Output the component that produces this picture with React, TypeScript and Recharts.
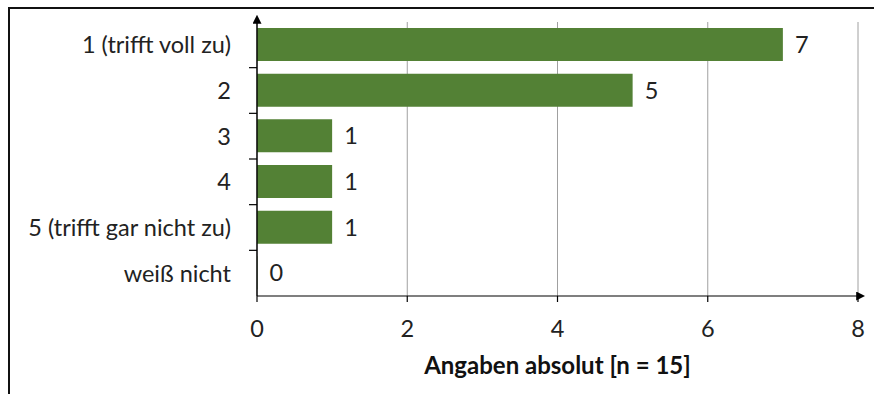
import React from 'react';
import { BarChart, Bar, XAxis, YAxis, CartesianGrid, LabelList } from 'recharts';

const categories = ['1 (trifft voll zu)', '2', '3', '4', '5 (trifft gar nicht zu)', 'weiß nicht'];
const counts = [7, 5, 1, 1, 1, 0];
const xTicks = [0, 2, 4, 6, 8];

const data = categories.map((name, i) => ({ name, value: counts[i] }));

const FONT = 'Lato, "Open Sans", sans-serif';
const FS = 23.5;
const CHART_W = 864;
const CHART_H = 385;
const MARGIN = { top: 13, right: 16, bottom: 0, left: 0 };
const X_AXIS_H = 98;
const BAND = (CHART_H - MARGIN.top - MARGIN.bottom - X_AXIS_H) / categories.length;

// category label plus a small tick at the lower boundary of each band
const CategoryTick = (props: any) => {
  const { x, y, payload, index } = props;
  const last = index === categories.length - 1;
  return (
    <g>
      <text x={x} y={y} dy="0.36em" textAnchor="end" fontSize={FS} fontFamily={FONT} fill="#222">
        {payload.value}
      </text>
      {!last && <line x1={x + 18} x2={x + 26} y1={y + BAND / 2} y2={y + BAND / 2} stroke="#000" strokeWidth={1.2} />}
    </g>
  );
};

const App: React.FC = () => {
  return (
    <div
      style={{
        position: 'fixed',
        top: 7,
        left: 8,
        width: 880,
        height: 400,
        borderTop: '2px solid #111',
        borderLeft: '2px solid #111',
        background: '#fff',
      }}
    >
      <svg width={0} height={0} style={{ position: 'absolute' }}>
        <defs>
          <marker id="axisArrow" viewBox="0 0 10 10" refX="2" refY="5" markerWidth="9" markerHeight="9" markerUnits="userSpaceOnUse" orient="auto-start-reverse">
            <path d="M0,0 L10,5 L0,10 z" fill="#000" />
          </marker>
        </defs>
      </svg>
      <BarChart width={CHART_W} height={CHART_H} data={data} layout="vertical" margin={MARGIN}>
        <CartesianGrid horizontal={false} stroke="#a0a0a0" strokeWidth={1} />
        <Bar dataKey="value" fill="#538135" barSize={33} minPointSize={0.4} isAnimationActive={false}>
          <LabelList dataKey="value" position="right" offset={12} style={{ fontSize: FS, fontFamily: FONT, fill: '#222' }} />
        </Bar>
        <XAxis
          type="number"
          domain={[0, 8]}
          ticks={xTicks}
          height={X_AXIS_H}
          tickSize={6}
          tickMargin={18}
          axisLine={{ stroke: '#000', strokeWidth: 1.2, markerEnd: 'url(#axisArrow)' }}
          tickLine={{ stroke: '#000', strokeWidth: 1.2 }}
          tick={{ fontSize: FS, fontFamily: FONT, fill: '#222' }}
          label={{
            value: 'Angaben absolut [n = 15]',
            position: 'insideBottom',
            offset: 20,
            style: { fontSize: 24, fontFamily: FONT, fontWeight: 700, fill: '#111' },
          }}
        />
        <YAxis
          type="category"
          dataKey="name"
          width={247}
          tickSize={8}
          tickMargin={18}
          tickLine={false}
          axisLine={{ stroke: '#000', strokeWidth: 1.4, markerStart: 'url(#axisArrow)' }}
          tick={<CategoryTick />}
          interval={0}
        />
      </BarChart>
    </div>
  );
};

export default App;
